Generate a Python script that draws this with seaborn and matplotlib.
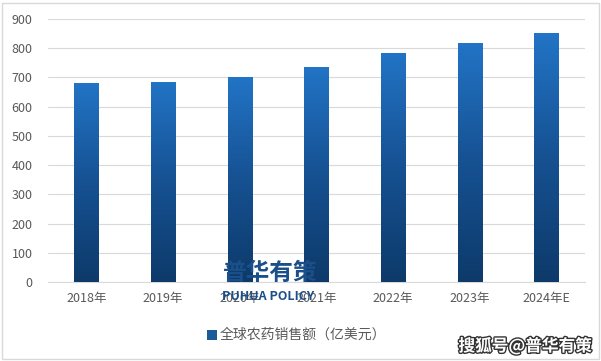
import numpy as np
import pandas as pd
import matplotlib
matplotlib.use("Agg")
import matplotlib.pyplot as plt
import matplotlib.patheffects as pe
from matplotlib.colors import LinearSegmentedColormap
from matplotlib.patches import Rectangle
import seaborn as sns

years = ["2018年", "2019年", "2020年", "2021年", "2022年", "2023年", "2024年E"]
sales = [681, 685, 701, 736, 785, 819, 852]
series_name = "全球农药销售额（亿美元）"
yticks = [0, 100, 200, 300, 400, 500, 600, 700, 800, 900]

sns.set_theme(style="white")
plt.rcParams['font.family'] = ['Noto Sans CJK SC', 'DejaVu Sans']

df = pd.DataFrame({"year": years, "sales": sales})

fig = plt.figure(figsize=(6.01, 3.61), dpi=100)
ax = fig.add_axes([48/601, 1 - 282/361, (585-48)/601, (282-19)/361])

sns.barplot(data=df, x="year", y="sales", ax=ax, color="#1f5fa0", width=0.32,
            saturation=1, edgecolor="none")

ax.set_ylim(0, 900)
ax.set_yticks(yticks)
ax.set_xlim(-0.5, len(years) - 0.5)
ax.yaxis.grid(True, color="#d9d9d9", linewidth=0.8)
ax.set_axisbelow(True)
for s in ["top", "right", "left"]:
    ax.spines[s].set_visible(False)
ax.spines["bottom"].set_color("#d9d9d9")
ax.spines["bottom"].set_linewidth(0.8)
ax.set_xlabel("")
ax.set_ylabel("")
ax.tick_params(axis="both", length=0, labelsize=9, labelcolor="#595959")
ax.tick_params(axis="y", pad=11)
ax.tick_params(axis="x", pad=7)

# gradient fill for each bar
cmap = LinearSegmentedColormap.from_list("g", ["#0d3a6a", "#165192", "#2274c6"])
grad = np.linspace(0, 1, 256).reshape(-1, 1)
for p in list(ax.patches):
    x0, y0 = p.get_x(), p.get_y()
    w, h = p.get_width(), p.get_height()
    p.set_facecolor("none")
    im = ax.imshow(grad, cmap=cmap, origin="lower", aspect="auto",
                   extent=[x0, x0 + w, y0, y0 + h], zorder=3)
    im.set_clip_path(p)
ax.set_xlim(-0.5, len(years) - 0.5)
ax.set_ylim(0, 900)

# legend
fig.patches.append(Rectangle((207/601, 1 - 340/361), 10/601, 10/361, transform=fig.transFigure,
                             facecolor="#1c5a9a", edgecolor="none"))
fig.text(220/601, 1 - 335/361, series_name, fontsize=10, color="#595959", ha="left", va="center")

# outer frame
fig.patches.append(Rectangle((2/601, 2/361), 597/601, 356/361, transform=fig.transFigure,
                             facecolor="none", edgecolor="#d9d9d9", linewidth=1))

# watermarks
fig.text(270/601, 1 - 273/361, "普华有策", fontsize=17, fontweight="bold", color="#1b4f8a",
         ha="center", va="center")
fig.text(268/601, 1 - 297/361, "PUHUA POLICY", fontsize=9, fontweight="bold", color="#1b4f8a",
         ha="center", va="center")
fig.text(525/601, 1 - 346/361, "搜狐号@普华有策", fontsize=12, fontweight="bold", color="white",
         ha="center", va="center",
         path_effects=[pe.withStroke(linewidth=2, foreground="#333333")])

fig.savefig("out.png", dpi=100)
